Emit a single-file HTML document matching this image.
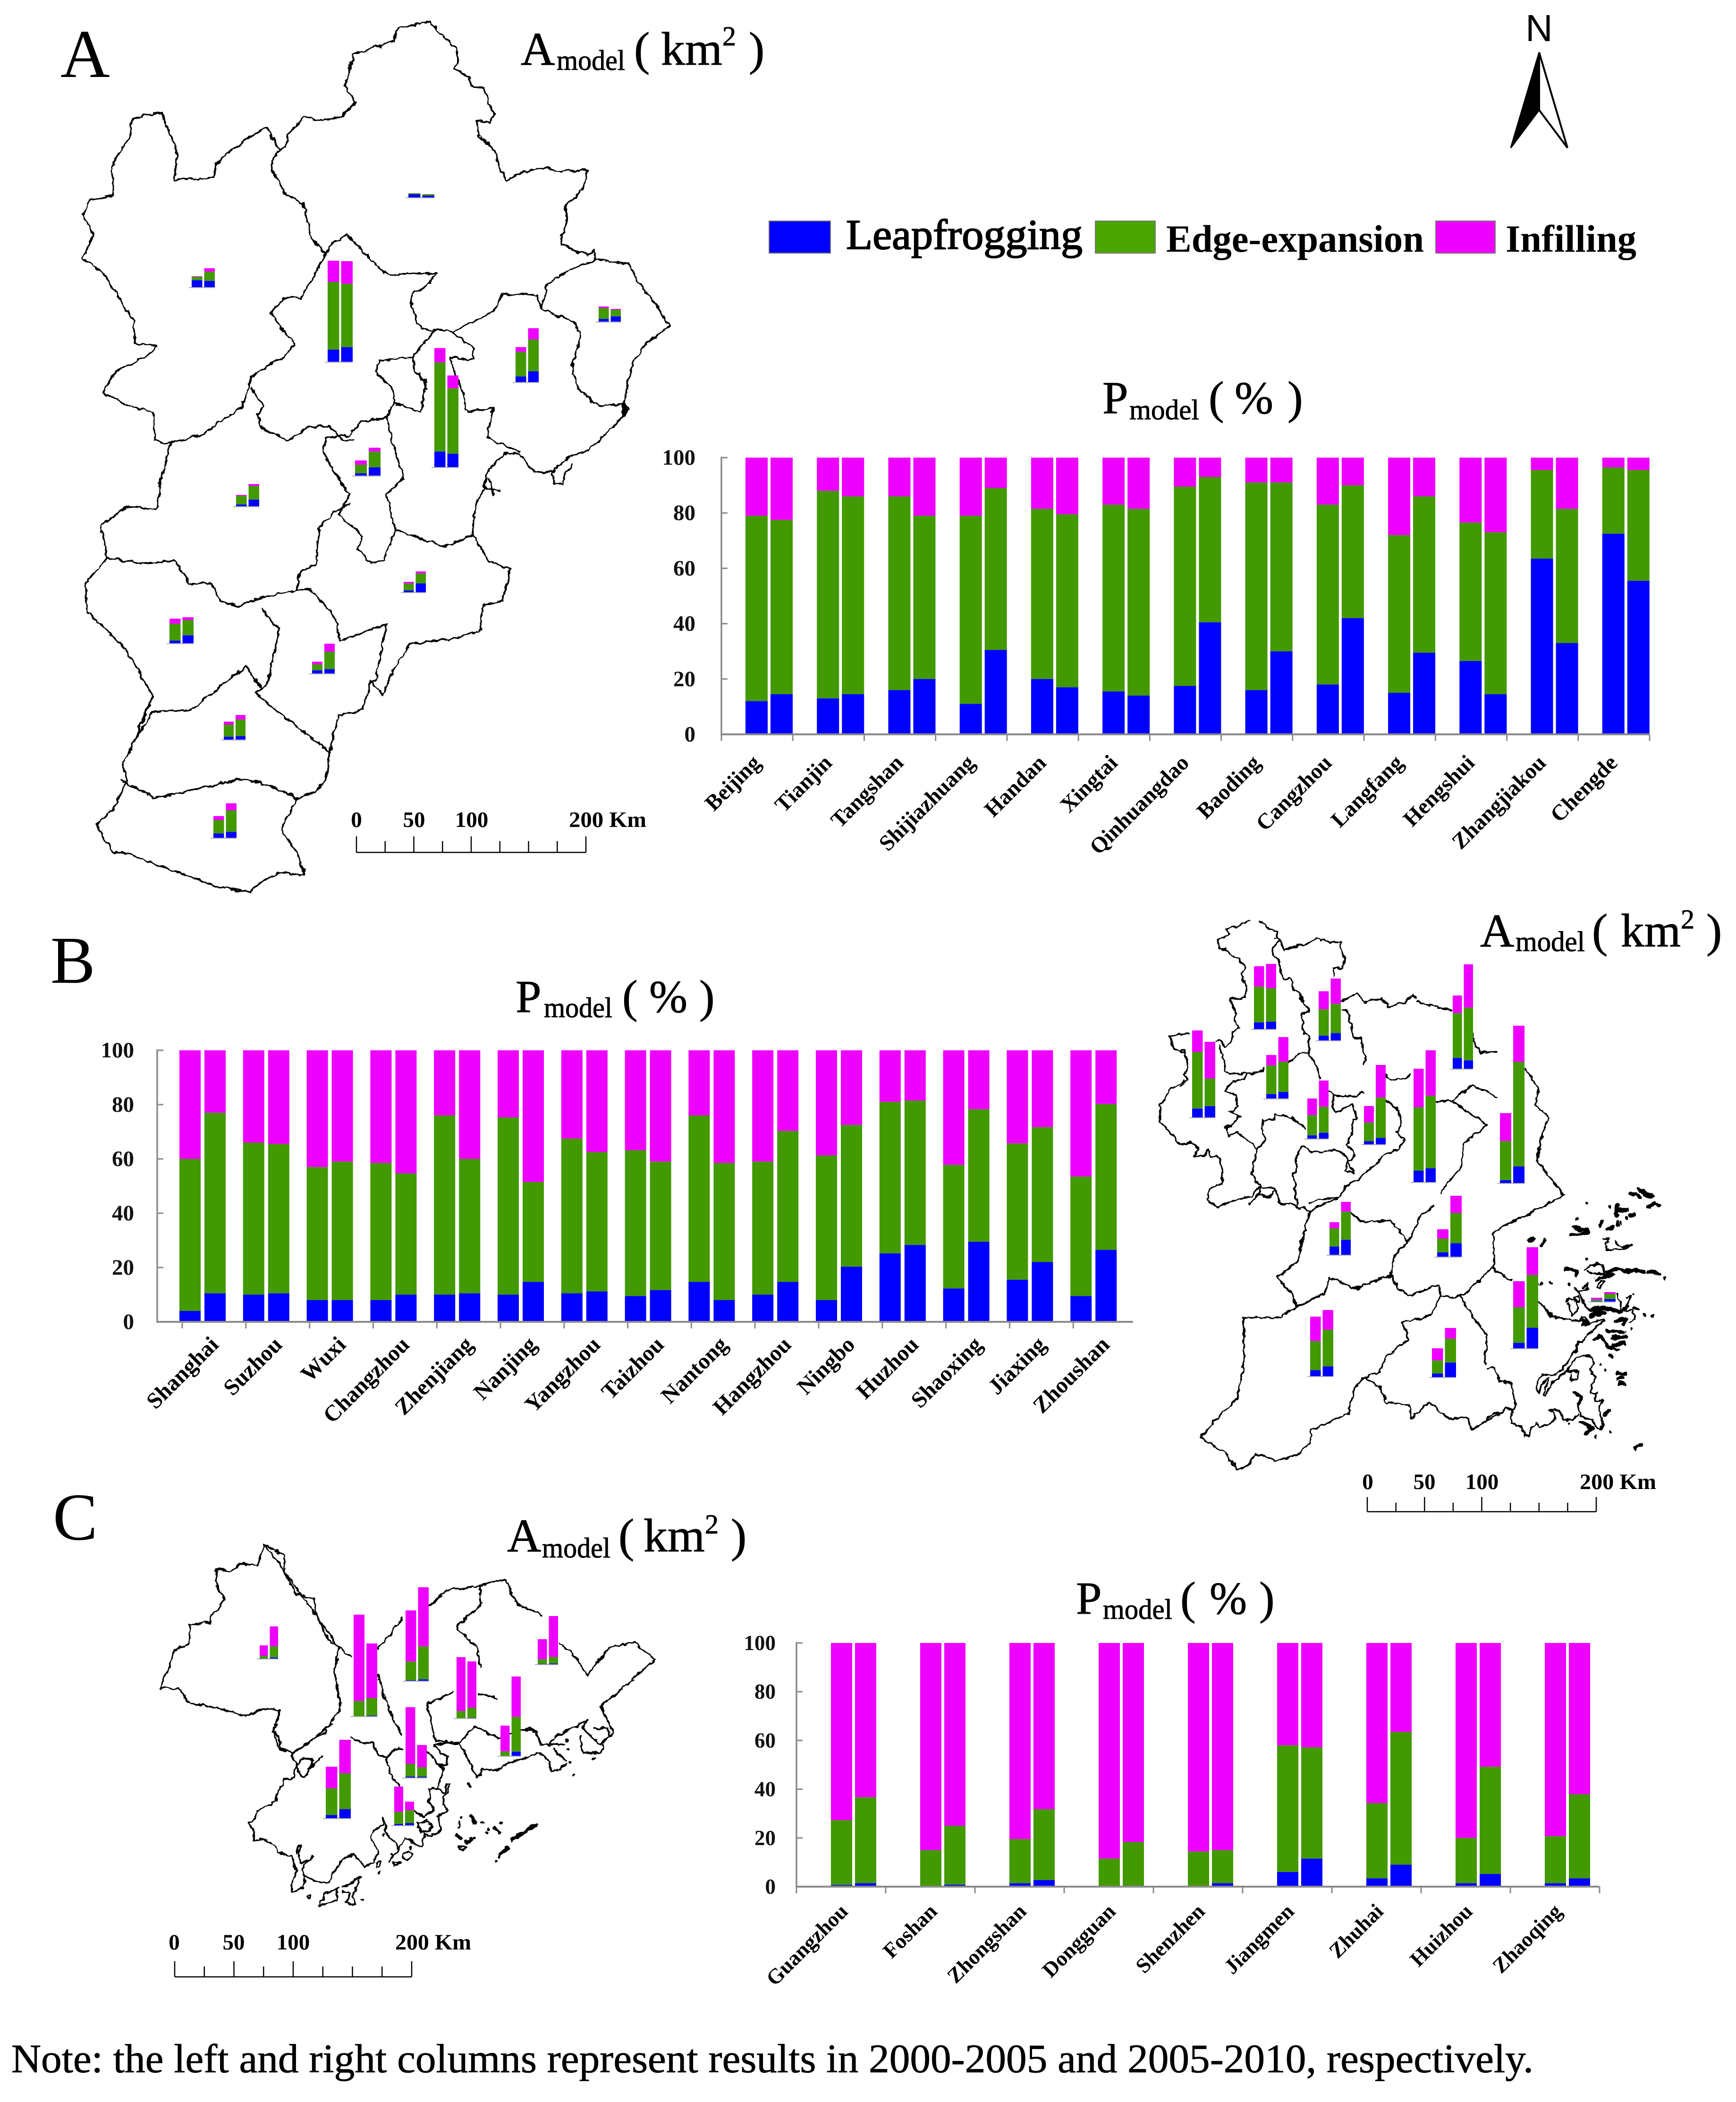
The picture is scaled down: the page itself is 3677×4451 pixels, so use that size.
<!DOCTYPE html>
<html lang="en">
<head>
<meta charset="utf-8">
<title>Urban expansion modes by city</title>
<style>
html,body{margin:0;padding:0;background:#fff}
svg{display:block}
text{font-family:"Liberation Serif",serif;fill:#000}
.heavy text{stroke:#000;stroke-width:.9}
.tick{font-weight:bold;fill:#111}
.sb{font-weight:bold;font-size:47px;fill:#000}
.outline path{fill:none;stroke:#000;stroke-width:3.8;vector-effect:non-scaling-stroke;stroke-linejoin:round;stroke-linecap:round}
.outline path.blob{stroke-width:8}
.outline path.dots{stroke-width:6}
</style>
</head>
<body>
<svg id="figure" xmlns="http://www.w3.org/2000/svg" width="3677" height="4451" viewBox="0 0 3677 4451">
<defs>
<filter id="rough" x="-3%" y="-3%" width="106%" height="106%" filterUnits="objectBoundingBox">
<feTurbulence type="fractalNoise" baseFrequency="0.07" numOctaves="3" seed="4" result="n"/>
<feDisplacementMap in="SourceGraphic" in2="n" scale="11" xChannelSelector="R" yChannelSelector="G"/>
</filter>
</defs>
<rect x="0" y="0" width="3677" height="4451" fill="#fff"/>

<!-- Panel letters -->
<text x="128" y="163" font-size="145">A</text>
<text x="107" y="2081" font-size="142">B</text>
<text x="112" y="3260" font-size="142">C</text>

<!-- Map A -->
<g filter="url(#rough)">
<g class="outline" transform="matrix(.9247 0 0 1.2117 0 0)">
<path d="M985 38 1010 60 1045 85 1050 110 1040 120 1075 135 1080 150 1110 155 1120 180 1132 200 1120 215 1092 210 1095 235 1135 265 1145 295 1160 315 1200 300 1255 292 1270 300 1345 297 1335 330 1295 360 1300 385 1285 410 1285 425 1320 440 1345 445 1360 437 1365 455 1440 460 1460 490 1500 530 1535 570 1480 600 1445 640 1430 700 1435 720 1400 750 1350 785 1300 800 1265 825 1225 825 1190 795 1160 790 1120 820 1105 860 1090 880 1082 935 1120 980 1170 995 1150 1050 1105 1060 1100 1100 1050 1115 940 1125 905 1165 875 1215 850 1190 830 1240 775 1250 755 1315 745 1365 720 1385 680 1395 645 1450 680 1490 700 1530 640 1525 590 1545 575 1560 500 1550 430 1530 350 1510 290 1490 260 1490 220 1440 260 1415 290 1365 280 1340 310 1290 350 1215 300 1150 270 1120 200 1070 195 1020 245 975 230 920 290 885 360 890 370 830 390 775 355 770 350 720 295 710 260 695 235 687 265 650 330 625 360 605 310 600 305 560 240 480 190 450 215 410 190 375 205 350 260 340 255 290 300 235 305 205 370 197 405 265 400 315 490 310 495 285 560 245 610 222 640 260 655 258 660 235 695 205 730 210 780 205 815 180 790 150 810 95 905 70 910 50 985 38Z"/>
<path d="M640 260 620 290 655 340 695 355 710 410 745 445 760 425 795 410 820 430 870 470 890 480 950 478 998 478 985 495 945 515 940 525 955 565 985 580 1000 575"/>
<path d="M745 445 720 480 690 520 650 520 620 545 645 575 675 600 650 625 610 640 575 660 555 710 490 745 460 760 390 775"/>
<path d="M575 678 605 710 590 725 600 750 660 770 710 745 755 745 785 770 810 770"/>
<path d="M1000 575 960 610 945 625 870 630 860 650 900 680 905 700 885 730 830 735 800 760 745 765 740 790 745 800 800 865 775 900 830 935 820 960 850 985 880 980 905 925"/>
<path d="M905 705 965 720 975 665 950 650 945 625"/>
<path d="M1365 455 1310 470 1255 495 1240 540 1230 515 1150 515 1130 545 1075 565 1035 580 1000 575"/>
<path d="M1240 540 1320 565 1330 590 1310 640 1325 680 1370 710 1430 705"/>
<path d="M1035 580 1085 610 1085 628 1030 625 1060 690 1070 720 1130 712 1115 765 1190 790"/>
<path d="M885 730 905 790 925 835 885 865 905 925 975 945 1020 955 1082 935"/>
<path d="M800 880 765 895 730 925 725 985 685 1000 680 1030 600 1045 540 1060 505 1050 485 1020 435 1020 400 980 330 985 245 975"/>
<path d="M680 1030 710 1030 765 1075 780 1120 885 1090 860 1190 850 1190"/>
<path d="M600 1065 640 1100 615 1190 600 1205 585 1210 640 1245 755 1315"/>
<path d="M600 1205 565 1165 510 1195 440 1240 350 1245 310 1290"/>
<path d="M280 1365 355 1395 560 1360 640 1380 680 1395"/>
<path d="M1265 825 1270 845 1290 845 1295 825 1310 810"/>
<path d="M1105 850 1145 858M1120 835 1130 865"/>
<path class="blob" d="M1428 708 1436 716 1430 724Z"/>
</g>
</g>

<!-- Map B -->
<g filter="url(#rough)">
<g class="outline" transform="matrix(.8144 0 0 .829 2400 1900)">
<path d="M95 355 123 350M95 355 105 385 135 400"/>
<path d="M130 470 100 490 70 530 70 570 120 630"/>
<path d="M200 780 220 790 310 760 330 740 370 745 380 780 430 790 460 800"/>
<path d="M737 265 770 275 830 290M885 345 890 380 905 395 945 395"/>
<path d="M1020 440 1055 490 1045 530 1080 560 1060 620 1050 670 1120 760 1040 805 960 840 935 862 940 950 985 980"/>
<path d="M850 1020 890 1080 920 1120 915 1190"/>
<path d="M600 1225 640 1250 660 1290 720 1300 725 1330 770 1290 820 1330 870 1330 880 1360 950 1320"/>
<path d="M600 1225 575 1255 560 1320 465 1360 460 1395 425 1425 370 1440 320 1420 300 1450 270 1460 240 1420 175 1380 210 1340 270 1280 290 1180 285 1075 380 1075 430 1045 500 1010 510 970 580 1000 670 965 690 1000 715 1018 795 990 800 1020 830 1022 860 1015 930 950 940 945"/>
<path d="M800 1020 770 1070 700 1085 715 1130 660 1170 640 1215 600 1225"/>
<path d="M375 970 430 930 440 870 460 800 530 770M566 805 600 830 670 825 715 880 680 915 670 965"/>
<path d="M375 970 410 1010 425 1045 500 1010"/>
<path d="M715 880 750 810 780 790"/>
<path d="M800 755 850 690 860 630 920 580 880 555 830 520 880 480 945 510"/>
<path d="M787 520 830 520"/>
</g>
<!-- Northern cities, traced at higher resolution -->
<g class="outline" transform="matrix(.3333 0 0 .3827 2500 1950)">
<path d="M435 0 400 15 290 50 315 75 240 105 240 150 295 160 310 190 370 205 410 255 390 295 420 370 415 420 375 435 315 425 350 500 345 540 370 585 330 620 325 660 290 695 250 660 225 665"/>
<path d="M510 0 550 40 610 60 605 100 635 110 660 160 730 140 830 120 865 97 960 118 1015 115 1020 155 1045 210 1030 260 965 265 970 305"/>
<path d="M625 110 585 155 590 190 625 215 640 290 665 325 700 315 725 380 770 410 770 440 820 500 770 510 780 620 820 640 815 735"/>
<path d="M1025 440 1125 405 1170 450 1280 430 1325 475 1420 450 1480 410 1500 425"/>
<path d="M1025 490 1060 500 1105 650 1150 650 1165 730 1180 750 1168 790"/>
<path d="M250 690 270 770 285 835 345 845 420 845 530 830 530 815"/>
<path d="M420 845 405 880 330 885 280 940 345 960 370 1030 315 1055 380 1085 340 1120 290 1140 310 1190 360 1170 450 1230 490 1265 460 1370 450 1400 510 1470 500 1510 455 1550 430 1568"/>
<path d="M490 1265 540 1220 520 1140 525 1100 600 1100 600 1070 700 1085 795 1145"/>
<path d="M690 785 750 735 810 735 860 790 890 870"/>
<path d="M945 940 975 960 1060 970 1120 968 1158 945"/>
<path d="M975 970 970 1020 990 1060 1095 1015 1125 1095 1095 1100 1085 1190 1050 1240 1105 1275 1095 1320 1060 1330 1050 1380 1105 1395 1060 1330"/>
<path d="M740 1568 720 1400 750 1360 730 1340 740 1290 775 1245 830 1275 905 1280 970 1260 1050 1295 1060 1330"/>
<path d="M1305 990 1390 1050 1400 1130 1375 1170 1425 1215 1390 1260 1310 1290 1130 1430 1050 1470 1005 1530 940 1535 880 1540 825 1565"/>
<path d="M1305 850 1310 870 1385 880 1465 855"/>
<path d="M0 715 30 715 50 810 25 850 45 880 0 915M0 630 60 620"/>
<path d="M0 1235 70 1225 115 1255 90 1305 150 1305 175 1270 200 1300 250 1310 265 1360 265 1450 190 1480 170 1540 220 1568"/>
<path d="M500 1510 550 1530 610 1490 630 1560"/>
</g>
<!-- Zhejiang coast and islands, traced at higher resolution -->
<g class="outline" transform="matrix(.3333 0 0 .3827 3150 2480)">
<path d="M325 720 375 765 410 800 450 810 510 820 590 830 600 805 625 805 640 830 600 850 650 845 735 820 745 825 690 860 625 920 600 945 575 945 570 985 515 1040 480 1100 400 1130 360 1125 325 1160 305 1195 330 1230 350 1180 390 1145 360 1240 375 1240 400 1180 510 1105 550 1050 610 1020 670 1030 680 1060 655 1090 660 1120 690 1140 680 1170 660 1185 665 1230 700 1225 680 1250 690 1270 730 1270 710 1300 720 1350 740 1400 725 1430 690 1410 670 1380 620 1365 590 1350 580 1310 590 1290"/>
<path d="M575 1350 540 1375 490 1375 455 1325 400 1320 440 1350 415 1385 385 1405 330 1410 310 1390 280 1420 260 1470 235 1465 225 1420 155 1395 150 1360 165 1320 110 1315 100 1330 40 1340 0 1370"/>
<path d="M0 1085 30 1085 70 1130 80 1165 155 1170 165 1240 185 1290 165 1320"/>
<path d="M510 1105 550 1105 585 1105 570 1150 540 1160 530 1120"/>
<path d="M555 650 585 665 610 720 650 770M590 660 640 655M500 720 520 705 555 715 580 770 540 800 520 760 510 730M555 700 580 690 590 720 560 725Z"/>
<path d="M620 550 660 525 700 505 740 520 745 570 690 570 640 555M610 640 640 625 630 645ZM700 640 720 610 745 610 720 650Z"/>
<path d="M730 375 780 375 750 400 760 435 800 440 880 425 920 408M810 395 850 415 880 420"/>
<path d="M820 680 850 720 850 780M885 700 915 690 890 750 860 770 930 770 935 810 905 840"/>
<path class="blob" d="M650 770 700 758 770 760 850 780M660 800 750 782 660 775M600 820 640 835"/>
<path class="blob" d="M915 125 960 135 975 150M960 100 985 110 1010 130 1055 135M1020 195 1070 180 1095 190M830 180 820 210 825 250M830 215 890 215M905 245 935 245M730 280 722 298M765 318 805 310M825 280 830 295"/>
<path class="blob" d="M550 305 600 325 640 325M530 352 600 350 640 340M500 540 560 550 565 570M760 555 830 540 870 550 950 550 1000 560M1025 555 1060 560 1095 570M800 570 760 575M690 600 750 580"/>
<path class="blob" d="M810 830 880 815 870 850M760 885 870 890M790 920 875 915M800 960 870 950M690 930 720 910 770 970 830 990M780 1020 795 1025M930 750 955 765"/>
<path class="blob" d="M830 1115 880 1120M825 1150 860 1140M840 1175 875 1180M560 1230 600 1250 580 1290M775 1320 750 1350M600 1390 670 1420 630 1450M945 1535 975 1515M265 385 295 375M350 405 365 385"/>
<path class="dots" d="M630 180h1M565 263h1M632 485h1M750 1100h1M775 1440h1M692 1472h1M1000 797h1M1052 800h1M520 1395h1M350 622h1M400 618h1M325 620h1M520 622h1M1130 592h4M885 262h1M850 285h1M780 195h1M715 1070h1M930 675h1M915 870h1"/>
</g>
</g>

<!-- Map C -->
<g filter="url(#rough)">
<g class="outline" transform="matrix(.9566 0 0 .8616 0 3100)">
<path d="M585 197 630 225 630 270 655 320 695 330 700 370 725 430 750 450 775 475M750 450 740 510 755 600 725 645 680 690 650 708 620 700 605 660 620 605 590 600 545 620 500 605 415 585 400 555 355 550 375 500 385 460 420 440 420 395 465 390 470 370 497 335 480 300 478 258 510 265 530 245 570 250 585 197Z"/>
<path d="M835 455 865 420 890 380M950 350 990 310 1060 300 1120 285 1145 345 1200 370M1062 300 1065 345 1010 400 1055 450 1065 500M835 520 850 570 870 625 890 665"/>
<path d="M1240 440 1280 480 1300 520 1350 450 1405 440 1450 480 1400 530 1330 595 1358 660 1330 690 1290 650 1300 630 1230 670 1215 690"/>
<path d="M945 590 1005 560M1060 565 1100 575M945 590 965 680 1020 685 1050 645 1105 675 1150 650 1190 660 1195 690 1215 690 1250 690"/>
<path d="M1254 730 1225 700M1285 670 1290 710 1330 710 1335 690M1315 650 1345 650 1350 670"/>
<path class="dots" d="M1255 680h1M1258 700h1M1262 735h1M1270 765h1M1315 725h1"/>
</g>
<!-- Pearl River estuary, traced at higher resolution -->
<g class="outline" transform="matrix(.4464 0 0 .3344 500 3650)">
<path d="M195 0 175 50 205 80 215 150 225 175 255 170 265 185M265 185 320 140 360 100 420 60 430 25 455 0"/>
<path d="M265 185 285 265 265 350 225 355 220 390 195 420 190 490 150 520 100 550 90 600 60 630 85 680 80 745 120 725 190 780 205 815 260 845 275 900 290 930 270 1000 262 1068 320 1040 325 990 315 900 355 860 360 840"/>
<path d="M285 820 295 770 310 775 295 810 310 880 355 860"/>
<path d="M320 960 400 1005 440 1005 465 940 495 880 520 845 555 830 590 870 610 910 645 880 675 820 665 790 640 720 655 680 695 640 695 595"/>
<path d="M700 600 715 700 760 760 770 800 725 870"/>
<path d="M770 800 800 720 825 730 840 760 880 770 895 700 925 710 975 680 960 600 955 585 1005 545 980 510 995 440 1015 380 1000 385 985 440 955 410 920 410 915 490 940 550 890 590 845 555"/>
<path d="M860 630 900 615 930 640 920 680 875 695 860 630Z"/>
<path d="M775 395 740 340 715 250 715 215 675 200 650 120 600 125 550 85M715 215 755 155 790 160"/>
<path d="M410 210 350 280 340 320 315 335 285 265 320 215 350 215 360 240 350 280"/>
<path d="M905 175 940 220 950 260 985 280 975 340 955 400"/>
<path d="M940 135 1000 120 1060 120 1120 275 1145 345 1170 285 1235 295 1300 245 1350 225 1440 185 1490 240 1495 300 1530 290 1568 260"/>
<path d="M940 135 960 170 1000 205 1000 260 960 265 985 300"/>
<path d="M1350 40 1390 30 1430 60 1450 135 1500 130M1500 100 1568 50"/>
<path d="M395 1150 420 1080 480 1040 475 1120 420 1145ZM500 1040 590 975 565 1060 550 1100 565 1145 520 1130 545 1065 505 1060M665 880 690 875 685 905 670 905ZM745 880 780 880 745 905ZM790 820 815 805 840 830 815 865 790 850ZM1055 780 1090 775 1085 800 1060 790ZM1060 620 1055 660M340 1085 355 1085 350 1105 340 1100Z"/>
<path class="blob" d="M1115 585 1130 625M1225 665 1245 690M1310 735 1360 695 1425 640M1250 840 1285 790M1100 385 1108 400M1045 710 1070 720M1090 745 1115 735"/>
<path class="dots" d="M600 1115h2M678 948h1M740 825h1M827 785h1M1070 600h1M1165 628h3M1255 630h3M1200 665h1M1190 688h2M1130 730h1M1230 865h1M698 700h1"/>
</g>
</g>

<!-- Titles A -->
<g class="heavy">
<text x="1103" y="137" font-size="100">A</text>
<text x="1179" y="148" font-size="60" textLength="145" lengthAdjust="spacingAndGlyphs">model</text>
<text x="1343" y="137" font-size="100">(</text>
<text x="1400" y="137" font-size="100" textLength="130" lengthAdjust="spacingAndGlyphs">km</text>
<text x="1530" y="96" font-size="58">2</text>
<text x="1586" y="137" font-size="100">)</text>
</g>
<g class="heavy">
<text x="2335" y="875" font-size="98">P</text>
<text x="2392" y="888" font-size="60" textLength="148" lengthAdjust="spacingAndGlyphs">model</text>
<text x="2560" y="875" font-size="98">(</text>
<text x="2615" y="875" font-size="98" textLength="82" lengthAdjust="spacingAndGlyphs">%</text>
<text x="2727" y="875" font-size="98">)</text>
</g>
<!-- Titles B -->
<g class="heavy">
<text x="3135" y="2004" font-size="100">A</text>
<text x="3210" y="2014" font-size="60" textLength="147" lengthAdjust="spacingAndGlyphs">model</text>
<text x="3372" y="2004" font-size="100">(</text>
<text x="3433" y="2004" font-size="100" textLength="127" lengthAdjust="spacingAndGlyphs">km</text>
<text x="3560" y="1966" font-size="58">2</text>
<text x="3614" y="2004" font-size="100">)</text>
</g>
<g class="heavy">
<text x="1092" y="2143" font-size="98">P</text>
<text x="1152" y="2154" font-size="60" textLength="145" lengthAdjust="spacingAndGlyphs">model</text>
<text x="1318" y="2143" font-size="98">(</text>
<text x="1375" y="2143" font-size="98" textLength="81" lengthAdjust="spacingAndGlyphs">%</text>
<text x="1481" y="2143" font-size="98">)</text>
</g>
<!-- Titles C -->
<g class="heavy">
<text x="1074" y="3285" font-size="100">A</text>
<text x="1148" y="3298" font-size="60" textLength="145" lengthAdjust="spacingAndGlyphs">model</text>
<text x="1310" y="3285" font-size="100">(</text>
<text x="1363" y="3285" font-size="100" textLength="130" lengthAdjust="spacingAndGlyphs">km</text>
<text x="1493" y="3247" font-size="58">2</text>
<text x="1548" y="3285" font-size="100">)</text>
</g>
<g class="heavy">
<text x="2279" y="3417" font-size="98">P</text>
<text x="2336" y="3428" font-size="60" textLength="147" lengthAdjust="spacingAndGlyphs">model</text>
<text x="2500" y="3417" font-size="98">(</text>
<text x="2562" y="3417" font-size="98" textLength="79" lengthAdjust="spacingAndGlyphs">%</text>
<text x="2667" y="3417" font-size="98">)</text>
</g>

<!-- North arrow -->
<g>
<text x="3231" y="87" font-size="80" style="font-family:'Liberation Sans',sans-serif">N</text>
<path d="M3260 111 3200 313 3260 233Z" fill="#000" stroke="#000" stroke-width="3"/>
<path d="M3260 111 3320 313 3260 233Z" fill="#fff" stroke="#000" stroke-width="4"/>
</g>

<!-- Legend -->
<g>
<rect x="1629" y="468" width="130" height="68" fill="#0000ff" stroke="#777" stroke-width="2"/>
<text x="1792" y="527" font-size="90" textLength="501" lengthAdjust="spacingAndGlyphs" stroke="#000" stroke-width="2">Leapfrogging</text>
<rect x="2320" y="468" width="127" height="68" fill="#4aa500" stroke="#777" stroke-width="2"/>
<text x="2470" y="533" font-size="82" font-weight="bold" textLength="546" lengthAdjust="spacingAndGlyphs">Edge-expansion</text>
<rect x="3041" y="468" width="126" height="68" fill="#ee00ff" stroke="#777" stroke-width="2"/>
<text x="3189" y="533" font-size="82" font-weight="bold" textLength="277" lengthAdjust="spacingAndGlyphs">Infilling</text>
</g>

<!-- Scale bar labels -->
<g>
<text class="sb" x="755" y="1751" text-anchor="middle">0</text>
<text class="sb" x="877" y="1751" text-anchor="middle">50</text>
<text class="sb" x="999" y="1751" text-anchor="middle">100</text>
<text class="sb" x="1205" y="1751" textLength="164" lengthAdjust="spacingAndGlyphs">200  Km</text>
</g>
<g>
<text class="sb" x="2897" y="3153" text-anchor="middle">0</text>
<text class="sb" x="3017" y="3153" text-anchor="middle">50</text>
<text class="sb" x="3139" y="3153" text-anchor="middle">100</text>
<text class="sb" x="3346" y="3153" textLength="162" lengthAdjust="spacingAndGlyphs">200  Km</text>
</g>
<g>
<text class="sb" x="369" y="4128" text-anchor="middle">0</text>
<text class="sb" x="495" y="4128" text-anchor="middle">50</text>
<text class="sb" x="621" y="4128" text-anchor="middle">100</text>
<text class="sb" x="837" y="4128" textLength="161" lengthAdjust="spacingAndGlyphs">200  Km</text>
</g>

<text x="24" y="4388" font-size="86" textLength="3224" lengthAdjust="spacingAndGlyphs" stroke="#000" stroke-width=".8">Note: the left and right columns represent results in 2000-2005 and 2005-2010, respectively.</text>

<g id="plots"></g>
</svg>

<script>
// ---- Panel A: percent shares ----
const categoriesA = ['Beijing','Tianjin','Tangshan','Shijiazhuang','Handan','Xingtai','Qinhuangdao','Baoding','Cangzhou','Langfang','Hengshui','Zhangjiakou','Chengde'];
const leapA1   = [12,13,16,11,20,15.5,17.5,16,18,15,26.5,63.5,72.5];
const edgeA1   = [67,75,70,68,61.5,67.5,72,75,65,57,50,32,24];
const infillA1 = [21,12,14,21,18.5,17,10.5,9,17,28,23.5,4.5,3.5];
const leapA2   = [14.5,14.5,20,30.5,17,14,40.5,30,42,29.5,14.5,33,55.5];
const edgeA2   = [63,71.5,59,58.5,62.5,67.5,52.5,61,48,56.5,58.5,48.5,40];
const infillA2 = [22.5,14,21,11,20.5,18.5,7,9,10,14,27,18.5,4.5];
// Panel A: modelled area totals, km2 (estimated)
const areaA1 = [428,504,148,104,92,76,64,48,44,64,50,46,18];
const areaA2 = [426,388,228,110,146,104,54,94,88,118,126,80,14];

// ---- Panel B ----
const categoriesB = ['Shanghai','Suzhou','Wuxi','Changzhou','Zhenjiang','Nanjing','Yangzhou','Taizhou','Nantong','Hangzhou','Ningbo','Huzhou','Shaoxing','Jiaxing','Zhoushan'];
const leapB1   = [4,10,8,8,10,10,10.5,9.5,14.7,10,8,25.2,12.3,15.5,9.5];
const edgeB1   = [56,56,49,50.5,66,65.3,57,53.7,61.3,49,53.3,55.8,45.5,50.2,44];
const infillB1 = [40,34,43,41.5,24,24.7,32.5,36.8,24,41,38.7,19,42.2,34.3,46.5];
const leapB2   = [10.5,10.5,8,10,10.5,14.7,11.2,11.7,8,14.7,20.3,28.3,29.5,22,26.5];
const edgeB2   = [66.5,55,51,44.7,49.5,36.8,51.3,47.3,50.5,55.6,52.2,53.2,48.8,49.7,53.7];
const infillB2 = [23,34.5,41,45.3,40,48.5,37.5,41,41.5,29.7,27.5,18.5,21.7,28.3,19.8];
const areaB1 = [296,480,162,170,184,368,266,208,310,252,284,138,122,116,16];
const areaB2 = [666,558,336,246,260,320,276,262,442,280,428,224,208,258,40];

// ---- Panel C ----
const categoriesC = ['Guangzhou','Foshan','Zhongshan','Dongguan','Shenzhen','Jiangmen','Zhuhai','Huizhou','Zhaoqing'];
const leapC1   = [0.7,0,1.4,0,0,6,3.4,1.4,1.4];
const edgeC1   = [26.6,15,18.1,11.5,14.4,52,30.9,18.6,19.3];
const infillC1 = [72.7,85,80.5,88.5,85.6,42,65.7,80,79.3];
const leapC2   = [1.4,0.8,2.7,0.4,1.4,11.5,9,5.2,3.4];
const edgeC2   = [35.3,24.2,29.1,17.9,13.6,45.7,54.5,44,34.5];
const infillC2 = [63.3,75,68.2,81.7,85,42.8,36.5,50.8,62.1];
// Map C totals follow the city order. The figure shows two cities with swapped second columns.
const areaC1 = [298,430,298,258,128,218,164,106,56];
const areaC2 = [396,308,138,240,336,332,100,204,136];

// Shared labels
const percentTicks = [0,20,40,60,80,100];

// Places on each map where the mini-chart sits (geography, not data)
const placesA = [[694,747,766],[920,971,989],[1092,1141,809],[359,410,1362],[452,501,1774],[474,520,1566],[1268,1315,681],[500,549,1072],[855,902,1254],[752,806,1007],[661,709,1426],[406,455,608],[865,920,418]];
const placesB = [[3177,3229,2505],[2994,3041,2503],[2889,2935,2423],[2769,2814,2411],[2682,2729,2326],[2525,2574,2366],[2656,2703,2179],[2793,2840,2203],[3077,3120,2263],[2775,2824,2914],[3205,3258,2855],[2816,2861,2657],[3033,3084,2916],[3044,3096,2661],[3370,3422,2756]];
const placesC = [[859,908,3559],[749,799,3634],[859,904,3764],[967,1009,3638],[1060,1103,3718],[690,743,3850],[835,877,3865],[1139,1182,3524],[550,589,3512]];
// Map C: share columns by city index; the Shenzhen and Huizhou stacks swap their second column
const mapCFirst  = [0,1,2,3,4,5,6,7,8];
const mapCSecond = [0,1,2,3,7,5,6,4,8];

const NS = 'http://www.w3.org/2000/svg';
const plots = document.getElementById('plots');
const BLUE = '#0000ff', GREEN = '#429900', MAGENTA = '#ee00ff', AXIS = '#8a8a8a';

function make(tag, parent) {
  const el = document.createElementNS(NS, tag);
  parent.appendChild(el);
  return el;
}
function rect(parent, x, y, w, h, fill, name) {
  const el = make('rect', parent);
  el.setAttribute('x', x);
  el.setAttribute('y', y);
  el.setAttribute('width', w);
  el.setAttribute('height', Math.max(h, 0));
  el.setAttribute('fill', fill);
  
  
  return el;
}
function line(parent, x1, y1, x2, y2, color, width, name) {
  const el = make('line', parent);
  el.setAttribute('x1', x1);
  el.setAttribute('y1', y1);
  el.setAttribute('x2', x2);
  el.setAttribute('y2', y2);
  el.setAttribute('stroke', color);
  el.setAttribute('stroke-width', width);
  
  
  return el;
}
function slug(s) { return s.toLowerCase(); }

function drawChart(cfg) {
  const g = make('g', plots);
  
  
  const yScale = v => cfg.y0 - (v / 100) * (cfg.y0 - cfg.y100);
  const barX = (i, col) => cfg.barStart + cfg.band * i + col * (cfg.barW + cfg.gap);
  const tickX = i => cfg.tickStart + cfg.band * i;

  cfg.categories.forEach((cat, i) => {
    [0, 1].forEach(col => {
      const leap = cfg.leap[col][i], edge = cfg.edge[col][i], infill = cfg.infill[col][i];
      const x = barX(i, col);
      const yearTag = col === 0 ? '2000-2005' : '2005-2010';
      rect(g, x, yScale(leap + edge + infill), cfg.barW, yScale(leap + edge) - yScale(leap + edge + infill), MAGENTA, 'bar-infilling-' + slug(cat) + '-' + yearTag);
      rect(g, x, yScale(leap + edge), cfg.barW, yScale(leap) - yScale(leap + edge), GREEN, 'bar-edge-expansion-' + slug(cat) + '-' + yearTag);
      rect(g, x, yScale(leap), cfg.barW, yScale(0) - yScale(leap), BLUE, 'bar-leapfrogging-' + slug(cat) + '-' + yearTag);
    });
  });

  line(g, cfg.left, cfg.y0, cfg.right, cfg.y0, AXIS, 4, 'x-axis-line');
  line(g, cfg.left, cfg.y100 - 2, cfg.left, cfg.y0 + 2, AXIS, 3.5, 'y-axis-line');
  percentTicks.forEach(t => {
    line(g, cfg.left, yScale(t), cfg.left + 13, yScale(t), AXIS, 3, 'y-tick-' + t);
    const lab = make('text', g);
    lab.setAttribute('class', 'tick');
    lab.setAttribute('x', cfg.labelRight);
    lab.setAttribute('y', yScale(t) + 15);
    lab.setAttribute('text-anchor', 'end');
    lab.setAttribute('font-size', cfg.tickFont);
    
    
    lab.textContent = t;
  });
  for (let i = 0; i < cfg.tickCount; i++) {
    line(g, tickX(i), cfg.y0, tickX(i), cfg.y0 + 14, AXIS, 3, 'x-tick-' + i);
  }
  cfg.categories.forEach((cat, i) => {
    const cx = cfg.labelStart + cfg.band * (i + 0.5) + cfg.labelDx;
    const lab = make('text', g);
    lab.setAttribute('font-size', cfg.catFont);
    lab.setAttribute('font-weight', 'bold');
    lab.setAttribute('text-anchor', 'end');
    lab.setAttribute('fill', '#111');
    lab.setAttribute('transform', 'translate(' + cx + ',' + cfg.labelY + ') rotate(-45)');
    
    
    lab.textContent = cat;
  });
}

function drawMiniMap(name, categories, places, area1, area2, set, first, second) {
  const g = make('g', plots);
  
  
  const areaScale = v => v * 0.5;
  places.forEach((p, idx) => {
    const gapPx = 4;
    const w = (p[1] - p[0] - gapPx) / 2;
    const cols = [
      { i: first ? first[idx] : idx, area: area1[idx], s: 0, x: p[0] },
      { i: second ? second[idx] : idx, area: area2[idx], s: 1, x: p[0] + w + gapPx }
    ];
    const owner = categories[first ? first[idx] : idx];
    line(g, p[0] - 6, p[2] + 1, p[1], p[2] + 1, '#999', 1.5, 'mini-baseline-' + slug(owner));
    cols.forEach(c => {
      const total = areaScale(c.area);
      const l = set.leap[c.s][c.i] / 100 * total;
      const e = set.edge[c.s][c.i] / 100 * total;
      const n = set.infill[c.s][c.i] / 100 * total;
      const tag = slug(owner) + '-' + (c.s === 0 ? '2000-2005' : '2005-2010');
      rect(g, c.x, p[2] - l - e - n, w, n, MAGENTA, 'mini-infilling-' + tag);
      rect(g, c.x, p[2] - l - e, w, e, GREEN, 'mini-edge-expansion-' + tag);
      rect(g, c.x, p[2] - l, w, l, BLUE, 'mini-leapfrogging-' + tag);
    });
  });
}

function drawScaleBar(name, x0, x1, yBottom, endTop, midTop) {
  const g = make('g', plots);
  
  
  line(g, x0, yBottom, x1, yBottom, '#000', 2.5, 'scale-bar-line');
  for (let i = 0; i <= 8; i++) {
    const x = x0 + (x1 - x0) * i / 8;
    const top = (i % 4 === 0 || i === 2) ? endTop : midTop;
    line(g, x, top, x, yBottom, '#000', 2.5, 'scale-bar-tick-' + i);
  }
}

const setA = { leap: [leapA1, leapA2], edge: [edgeA1, edgeA2], infill: [infillA1, infillA2] };
const setB = { leap: [leapB1, leapB2], edge: [edgeB1, edgeB2], infill: [infillB1, infillB2] };
const setC = { leap: [leapC1, leapC2], edge: [edgeC1, edgeC2], infill: [infillC1, infillC2] };

drawChart({ name: 'chart-a-percent-stacked-bars', categories: categoriesA, leap: setA.leap, edge: setA.edge, infill: setA.infill,
  left: 1528, right: 3494, y0: 1555, y100: 969, band: 151.23, barStart: 1579, barW: 47, gap: 6,
  tickStart: 1528, tickCount: 14, labelRight: 1473, tickFont: 47, catFont: 47, labelStart: 1528, labelDx: 10, labelY: 1618 });
drawChart({ name: 'chart-b-percent-stacked-bars', categories: categoriesB, leap: setB.leap, edge: setB.edge, infill: setB.infill,
  left: 333, right: 2400, y0: 2799, y100: 2224, band: 134.8, barStart: 380, barW: 45, gap: 8,
  tickStart: 386, tickCount: 15, labelRight: 284, tickFont: 47, catFont: 48, labelStart: 386, labelDx: 12, labelY: 2850 });
drawChart({ name: 'chart-c-percent-stacked-bars', categories: categoriesC, leap: setC.leap, edge: setC.edge, infill: setC.infill,
  left: 1687, right: 3388, y0: 3995, y100: 3479, band: 189, barStart: 1760, barW: 45, gap: 6,
  tickStart: 1687, tickCount: 10, labelRight: 1643, tickFont: 45, catFont: 45, labelStart: 1687, labelDx: 17, labelY: 4050 });

drawMiniMap('map-a-mini-charts', categoriesA, placesA, areaA1, areaA2, setA);
drawMiniMap('map-b-mini-charts', categoriesB, placesB, areaB1, areaB2, setB);
drawMiniMap('map-c-mini-charts', categoriesC, placesC, areaC1, areaC2, setC, mapCFirst, mapCSecond);

drawScaleBar('scale-bar-a', 755, 1241, 1805, 1771, 1781);
drawScaleBar('scale-bar-b', 2896, 3381, 3201, 3170, 3182);
drawScaleBar('scale-bar-c', 370, 872, 4186, 4153, 4164);
</script>
</body>
</html>
